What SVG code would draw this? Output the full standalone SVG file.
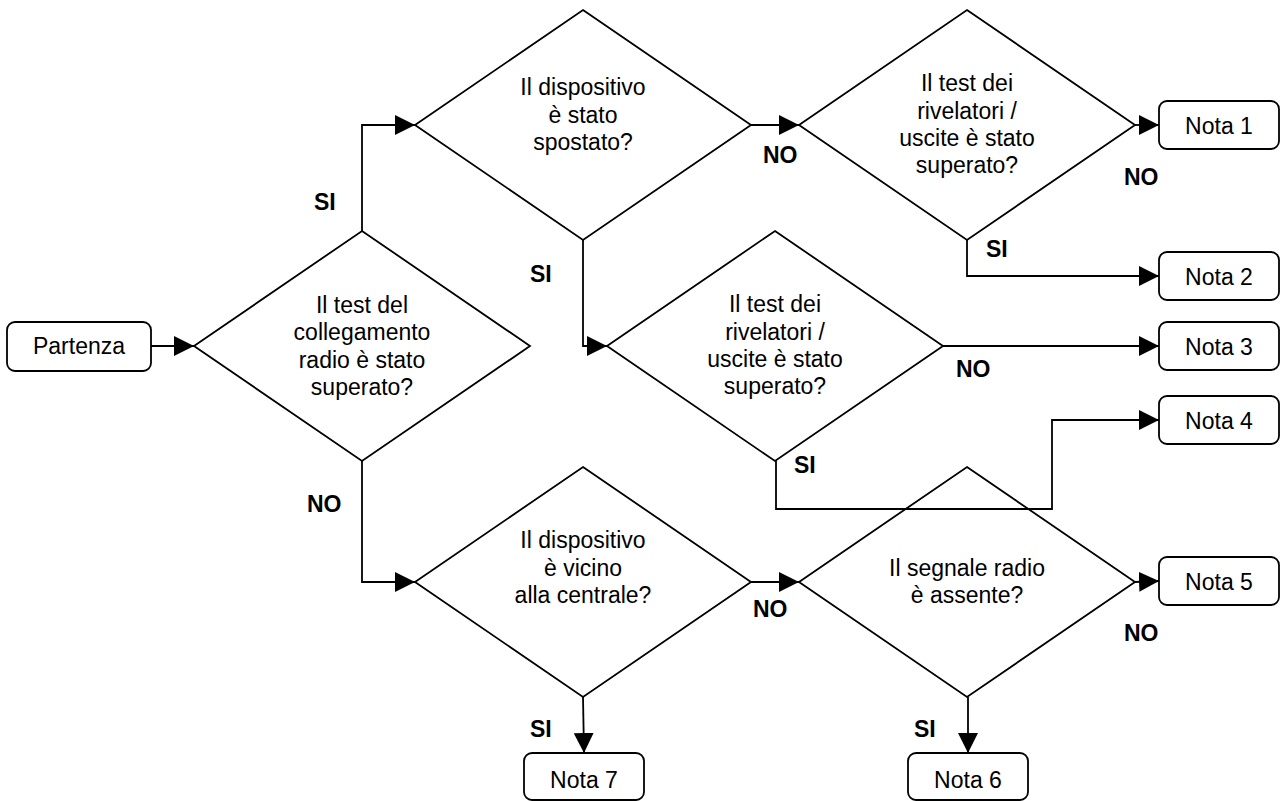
<svg xmlns="http://www.w3.org/2000/svg" width="1281" height="801" viewBox="0 0 1281 801">
<style>
.shape{fill:#fff;stroke:#000;stroke-width:1.8}
.box{fill:#fff;stroke:#000;stroke-width:1.8}
.t{font-family:"Liberation Sans",Arial,sans-serif;font-size:23px;fill:#000;text-anchor:middle}
.lbl{font-family:"Liberation Sans",Arial,sans-serif;font-size:23px;font-weight:bold;fill:#000}
.edge{fill:none;stroke:#000;stroke-width:1.8;marker-end:url(#arr)}
</style>
<defs>
<marker id="arr" markerUnits="userSpaceOnUse" markerWidth="21" markerHeight="20" refX="20" refY="10" orient="auto">
<path d="M0,0 L20,10 L0,20 z" fill="#000"/>
</marker>
</defs>
<rect width="1281" height="801" fill="#fff"/>

<g id="partenza">
<rect class="box" x="7" y="322" width="144" height="49" rx="8"/>
<text class="t" x="79" y="354">Partenza</text>
</g>

<g id="d1">
<polygon class="shape" points="362,231 530,346 362,461 194,346"/>
<text class="t" x="362" y="313">Il test del</text>
<text class="t" x="362" y="340">collegamento</text>
<text class="t" x="362" y="368">radio è stato</text>
<text class="t" x="362" y="395">superato?</text>
</g>

<g id="d2">
<polygon class="shape" points="583,10 751,125 583,240 415,125"/>
<text class="t" x="583" y="95">Il dispositivo</text>
<text class="t" x="583" y="123">è stato</text>
<text class="t" x="583" y="150">spostato?</text>
</g>

<g id="d3">
<polygon class="shape" points="967,10 1135,125 967,240 799,125"/>
<text class="t" x="967" y="91">Il test dei</text>
<text class="t" x="967" y="119">rivelatori /</text>
<text class="t" x="967" y="146">uscite è stato</text>
<text class="t" x="967" y="173">superato?</text>
</g>

<g id="d4">
<polygon class="shape" points="775,231 943,346 775,461 607,346"/>
<text class="t" x="775" y="312">Il test dei</text>
<text class="t" x="775" y="340">rivelatori /</text>
<text class="t" x="775" y="367">uscite è stato</text>
<text class="t" x="775" y="394">superato?</text>
</g>

<g id="d5">
<polygon class="shape" points="967,467 1135,582 967,697 799,582"/>
<text class="t" x="967" y="576">Il segnale radio</text>
<text class="t" x="967" y="603">è assente?</text>
</g>

<g id="d6">
<polygon class="shape" points="583,467 751,582 583,697 415,582"/>
<text class="t" x="583" y="548">Il dispositivo</text>
<text class="t" x="583" y="576">è vicino</text>
<text class="t" x="583" y="603">alla centrale?</text>
</g>

<g id="nota1">
<rect class="box" x="1159" y="101" width="120" height="48" rx="8"/>
<text class="t" x="1219" y="134">Nota 1</text>
</g>
<g id="nota2">
<rect class="box" x="1159" y="252" width="120" height="48" rx="8"/>
<text class="t" x="1219" y="285">Nota 2</text>
</g>
<g id="nota3">
<rect class="box" x="1159" y="322" width="120" height="48" rx="8"/>
<text class="t" x="1219" y="355">Nota 3</text>
</g>
<g id="nota4">
<rect class="box" x="1159" y="396" width="120" height="48" rx="8"/>
<text class="t" x="1219" y="429">Nota 4</text>
</g>
<g id="nota5">
<rect class="box" x="1159" y="557" width="120" height="48" rx="8"/>
<text class="t" x="1219" y="590">Nota 5</text>
</g>
<g id="nota6">
<rect class="box" x="908" y="753" width="120" height="47" rx="8"/>
<text class="t" x="968" y="788">Nota 6</text>
</g>
<g id="nota7">
<rect class="box" x="524" y="753" width="120" height="47" rx="8"/>
<text class="t" x="584" y="788">Nota 7</text>
</g>

<g id="connectors">
<path class="edge" d="M151,346 L194,346"/>
<path class="edge" d="M362,231 L362,125 L415,125"/>
<path class="edge" d="M362,461 L362,582 L415,582"/>
<path class="edge" d="M751,125 L799,125"/>
<path class="edge" d="M583,240 L583,346 L607,346"/>
<path class="edge" d="M1135,125 L1159,125"/>
<path class="edge" d="M967,240 L967,276 L1159,276"/>
<path class="edge" d="M943,346 L1159,346"/>
<path class="edge" d="M776,461 L776,509 L1052,509 L1052,420 L1159,420"/>
<path class="edge" d="M751,582 L799,582"/>
<path class="edge" d="M1135,582 L1159,581"/>
<path class="edge" d="M968,697 L968,753"/>
<path class="edge" d="M583,697 L584,753"/>
</g>

<g id="edge-labels">
<text class="lbl" x="314" y="210">SI</text>
<text class="lbl" x="307" y="512">NO</text>
<text class="lbl" x="530" y="282">SI</text>
<text class="lbl" x="763" y="163">NO</text>
<text class="lbl" x="1124" y="185">NO</text>
<text class="lbl" x="986" y="257">SI</text>
<text class="lbl" x="956" y="377">NO</text>
<text class="lbl" x="794" y="473">SI</text>
<text class="lbl" x="753" y="617">NO</text>
<text class="lbl" x="1124" y="641">NO</text>
<text class="lbl" x="530" y="737">SI</text>
<text class="lbl" x="914" y="737">SI</text>
</g>
</svg>
